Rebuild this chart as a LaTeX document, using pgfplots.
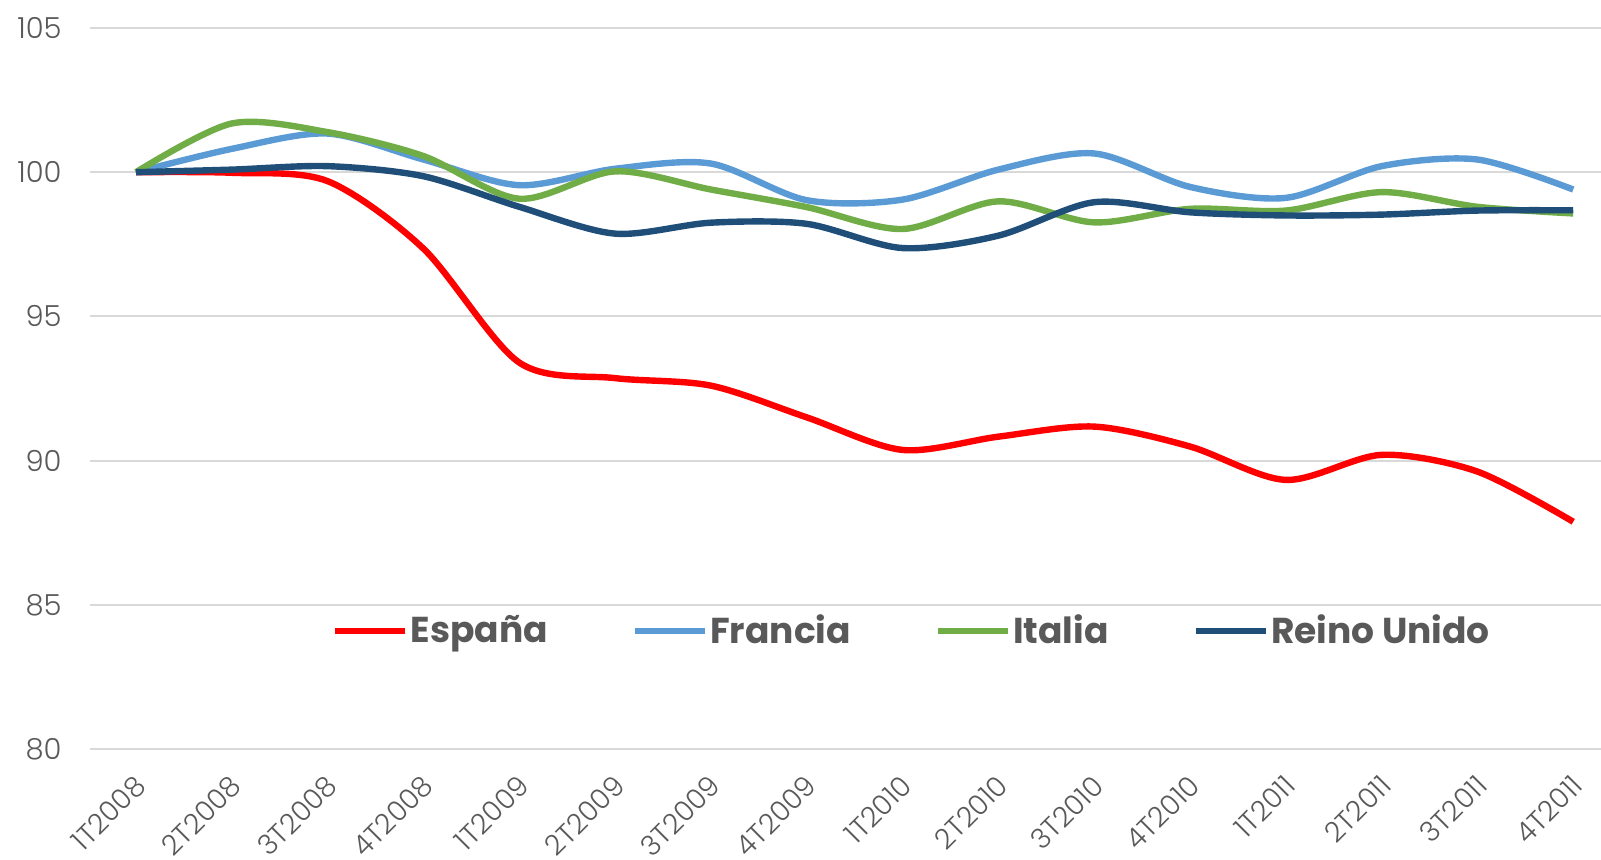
\documentclass[border=0pt]{standalone}
\usepackage{pgfplots}
\pgfplotsset{compat=1.18}
\usepackage{pgfplotstable}
\usepackage{fontspec}
\setmainfont{Poppins}
\newfontfamily\tickfont{Poppins Light}

\definecolor{espana}{HTML}{FF0000}
\definecolor{francia}{HTML}{5B9BD5}
\definecolor{italia}{HTML}{70AD47}
\definecolor{reino}{HTML}{1F4E79}
\definecolor{txtgray}{HTML}{595959}
\definecolor{gridgray}{HTML}{D9D9D9}

% quarter index, index value (1T2008 = 100)
\pgfplotstableread{
q  esp    fra     ita     gbr
0  100.00 100.00  100.00  100.00
1  99.98  100.81  101.69  100.09
2  99.69  101.34  101.39  100.21
3  97.35  100.44  100.56  99.86
4  93.40  99.55   99.08   98.80
5  92.86  100.12  100.03  97.87
6  92.60  100.30  99.40   98.25
7  91.50  99.03   98.79   98.21
8  90.37  99.05   98.03   97.37
9  90.83  100.09  98.99   97.80
10 91.18  100.65  98.26   98.96
11 90.49  99.49   98.73   98.61
12 89.33  99.11   98.67   98.50
13 90.20  100.21  99.31   98.53
14 89.62  100.44  98.80   98.67
15 87.88  99.40   98.57   98.68
}\datatable

\begin{document}
\begin{tikzpicture}
\begin{axis}[
    at={(0pt,0pt)}, anchor=south west,
    scale only axis,
    width=755.5pt, height=360.5pt,
    xmin=-0.48, xmax=15.29,
    ymin=80, ymax=105,
    ytick={80,85,90,95,100,105},
    yticklabels={80,85,90,95,100,105},
    xtick={0,...,15},
    xticklabels={1T2008,2T2008,3T2008,4T2008,1T2009,2T2009,3T2009,4T2009,
                 1T2010,2T2010,3T2010,4T2010,1T2011,2T2011,3T2011,4T2011},
    axis line style={draw=none},
    tick style={draw=none},
    ymajorgrids,
    major grid style={color=gridgray, line width=1pt},
    ticklabel style={font=\tickfont\fontsize{14.5}{17}\selectfont, text=txtgray},
    yticklabel style={anchor=east, inner sep=0pt, xshift=-14pt},
    xticklabel style={font=\tickfont\fontsize{14}{16}\selectfont,
        xshift=-1.5pt, yshift=-12pt, rotate=45, anchor=north east, inner sep=0pt},
    legend columns=4,
    legend style={
        at={(0.544,0.164)}, anchor=center,
        draw=none, fill=none,
        font=\fontsize{18}{21}\selectfont\bfseries,
        text=txtgray,
        nodes={inner sep=1pt},
        /tikz/every even column/.append style={column sep=41pt},
    },
    legend image code/.code={\draw[#1] (0pt,0pt) -- (35pt,0pt);},
]
\addplot[espana, line width=3.2pt, smooth] table[x=q, y=esp] {\datatable};
\addlegendentry{España}
\addplot[francia, line width=3.2pt, smooth] table[x=q, y=fra] {\datatable};
\addlegendentry{Francia}
\addplot[italia, line width=3.2pt, smooth] table[x=q, y=ita] {\datatable};
\addlegendentry{Italia}
\addplot[reino, line width=3.2pt, smooth] table[x=q, y=gbr] {\datatable};
\addlegendentry{Reino Unido}
\end{axis}
\pgfresetboundingbox
\path[use as bounding box] (-45pt,-55pt) rectangle (755.5pt,374.5pt);
\end{tikzpicture}
\end{document}
